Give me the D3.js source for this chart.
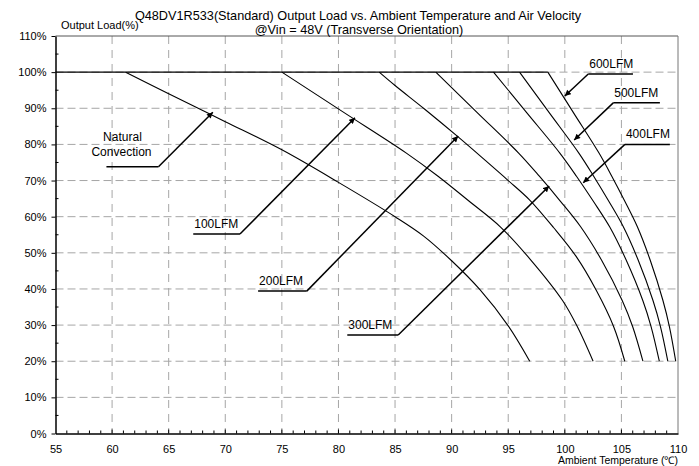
<!DOCTYPE html>
<html><head><meta charset="utf-8">
<script src="https://cdn.jsdelivr.net/npm/d3@7"></script>
<style>body{margin:0;background:#fff}svg{display:block}text{font-family:Arial,"Liberation Sans",sans-serif;fill:#000}</style>
</head><body><svg id="c" width="699" height="466"></svg>
<script>
// ---- data ----
const xTicks = [55,60,65,70,75,80,85,90,95,100,105,110];
const yTicks = [0,10,20,30,40,50,60,70,80,90,100,110];
const naturalConv = [[61.2,100],[65,94],[70,86.3],[75,78.5],[80,69.5],[85,60],[87.5,54.7],[90,47.8],[92.5,39.8],[95,29.8],[96.9,20]];
const lfm100 = [[75,100],[80.5,88.8],[86,77.6],[88.8,71.2],[91.5,64.4],[94.3,57.2],[97,48],[99.8,36.8],[101.1,29.6],[102.5,20]];
const lfm200 = [[83.6,100],[85,96.3],[87.6,89.8],[90.6,82],[93,75.5],[95,70],[96.9,64.6],[99,57],[101,49],[102.8,39.5],[104.3,29.7],[105.3,20]];
const lfm300 = [[88.6,100],[92.26,88.8],[95.92,77.6],[97.75,71.2],[99.58,64.4],[101.4,57.2],[103.24,48],[105.07,36.8],[105.99,29.6],[106.9,20]];
const lfm400 = [[93.7,100],[96.63,88.8],[99.56,77.6],[101.03,71.2],[102.49,64.4],[103.96,57.2],[105.42,48],[106.89,36.8],[107.62,29.6],[108.35,20]];
const lfm500 = [[96,100],[98.62,88.8],[101.24,77.6],[102.55,71.2],[103.86,64.4],[105.17,57.2],[106.48,48],[107.79,36.8],[108.45,29.6],[109.1,20]];
const lfm600 = [[98.5,100],[100.76,88.8],[103.02,77.6],[104.15,71.2],[105.28,64.4],[106.41,57.2],[107.54,48],[108.67,36.8],[109.24,29.6],[109.8,20]];
const seriesList = [naturalConv,lfm100,lfm200,lfm300,lfm400,lfm500,lfm600];
// annotations: label lines, underline from t1..t2 at p, arrow tip (tt,tp)
const labelNames = [["Natural","Convection"],["100LFM"],["200LFM"],["300LFM"],["400LFM"],["500LFM"],["600LFM"]];
const labelLines = [
  {t1:59.5,t2:64.1,p:73.8,tt:68.9,tp:88.9,side:"right"},
  {t1:67.17,t2:71.3,p:55.2,tt:81.46,tp:87.4,side:"right"},
  {t1:72.9,t2:77.2,p:39.4,tt:90.58,tp:82.3,side:"right"},
  {t1:80.78,t2:85.28,p:27.26,tt:98.62,tp:68.5,side:"right"},
  {t1:105.31,t2:109.28,p:80.0,tt:101.63,tp:69.4,side:"left"},
  {t1:104.28,t2:108.4,p:91.5,tt:100.83,tp:81.2,side:"left"},
  {t1:102.07,t2:106.02,p:99.5,tt:100.0,tp:93.4,side:"left"}
];
const title1 = "Q48DV1R533(Standard)  Output Load vs. Ambient Temperature and Air Velocity";
const title2 = "@Vin = 48V (Transverse Orientation)";
const yTitle = "Output Load(%)";
const xTitle = "Ambient Temperature (\u2103)";

// ---- layout ----
const L=55.5,R=678,T=36,B=433.5;
const svg=d3.select("#c");
const x=d3.scaleLinear().domain([55,110]).range([L,R]);
const y=d3.scaleLinear().domain([0,110]).range([B,T]);

svg.append("defs").append("marker").attr("id","ah").attr("viewBox","0 0 10 10")
 .attr("refX",10).attr("refY",5).attr("markerWidth",7).attr("markerHeight",6)
 .attr("markerUnits","userSpaceOnUse").attr("orient","auto")
 .append("path").attr("d","M0,0L10,5L0,10Z").attr("fill","#000");

// grid
const g=svg.append("g");
g.selectAll(".vg").data(xTicks.slice(1,-1)).join("line")
 .attr("x1",d=>x(d)).attr("x2",d=>x(d)).attr("y1",T).attr("y2",B)
 .attr("stroke","#a6a6a6").attr("stroke-width",1).attr("stroke-dasharray","8,6");
g.selectAll(".hg").data(yTicks.slice(1,-1)).join("line")
 .attr("x1",L).attr("x2",R).attr("y1",d=>y(d)).attr("y2",d=>y(d))
 .attr("stroke","#a6a6a6").attr("stroke-width",1).attr("stroke-dasharray","8,4");
// frame top/right
g.append("line").attr("x1",L).attr("x2",R).attr("y1",T).attr("y2",T).attr("stroke","#555").attr("stroke-width",1);
g.append("line").attr("x1",R).attr("x2",R).attr("y1",T).attr("y2",B).attr("stroke","#777").attr("stroke-width",1);

// axes
const ya=svg.append("g").attr("transform",`translate(${L},0)`)
 .call(d3.axisLeft(y).tickValues(yTicks).tickFormat(d=>d+"%").tickSize(4).tickSizeOuter(0).tickPadding(5));
ya.select(".domain").attr("stroke","#000").attr("stroke-width",1.5);
ya.selectAll("text").attr("font-size",11).attr("font-family","Arial,'Liberation Sans',sans-serif").attr("fill","#222");
const xa=svg.append("g").attr("transform",`translate(0,${B})`)
 .call(d3.axisBottom(x).tickValues(xTicks).tickSize(0).tickSizeOuter(0).tickPadding(12));
xa.select(".domain").attr("stroke","#000").attr("stroke-width",1.5);
xa.selectAll("text").attr("font-size",11).attr("font-family","Arial,'Liberation Sans',sans-serif").attr("fill","#222");
// minor ticks
svg.append("g").selectAll("line").data(d3.range(56,110)).join("line")
 .attr("x1",d=>x(d)).attr("x2",d=>x(d)).attr("y1",B).attr("y2",d=>B-(d%5===0?4:3))
 .attr("stroke","#000").attr("stroke-width",1);
svg.append("g").selectAll("line").data(d3.range(5,110,10)).join("line")
 .attr("x1",L).attr("x2",L+3).attr("y1",d=>y(d)).attr("y2",d=>y(d))
 .attr("stroke","#000").attr("stroke-width",1);

// 100% flat line
const maxStart=d3.max(seriesList,s=>s[0][0]);
svg.append("line").attr("x1",x(55)).attr("x2",x(maxStart)).attr("y1",y(100)).attr("y2",y(100))
 .attr("stroke","#000").attr("stroke-width",1.3);
// curves
const line=d3.line().x(d=>x(d[0])).y(d=>y(d[1])).curve(d3.curveCatmullRom.alpha(0.5));
svg.append("g").selectAll("path").data(seriesList).join("path")
 .attr("d",line).attr("fill","none").attr("stroke","#000").attr("stroke-width",1.1);

// annotations
labelLines.forEach((a,i)=>{
  const yy=y(a.p), x1=x(a.t1), x2=x(a.t2);
  const sx = a.side==="right"?x2:x1;
  svg.append("line").attr("x1",x1).attr("x2",x2).attr("y1",yy).attr("y2",yy).attr("stroke","#000").attr("stroke-width",1.5);
  svg.append("line").attr("x1",sx).attr("y1",yy).attr("x2",x(a.tt)).attr("y2",y(a.tp))
   .attr("stroke","#000").attr("stroke-width",1.5).attr("marker-end","url(#ah)");
  const names=labelNames[i];
  if(names.length===2){
    const cx=(x1+x2)/2 - 11;
    svg.append("text").attr("x",cx+1).attr("y",yy-26).attr("text-anchor","middle").attr("font-size",12).text(names[0]);
    svg.append("text").attr("x",cx).attr("y",yy-11).attr("text-anchor","middle").attr("font-size",12).text(names[1]);
  } else {
    svg.append("text").attr("x",x1+1).attr("y",yy-6).attr("font-size",12).text(names[0]);
  }
});

// titles
svg.append("text").attr("x",358).attr("y",20).attr("text-anchor","middle").attr("font-size",12.7).text(title1);
svg.append("text").attr("x",359).attr("y",33.5).attr("text-anchor","middle").attr("font-size",12.7).text(title2);
svg.append("text").attr("x",61).attr("y",29).attr("font-size",11).text(yTitle);
svg.append("text").attr("x",R).attr("y",464).attr("text-anchor","end").attr("font-size",10.5).text(xTitle);
</script></body></html>
